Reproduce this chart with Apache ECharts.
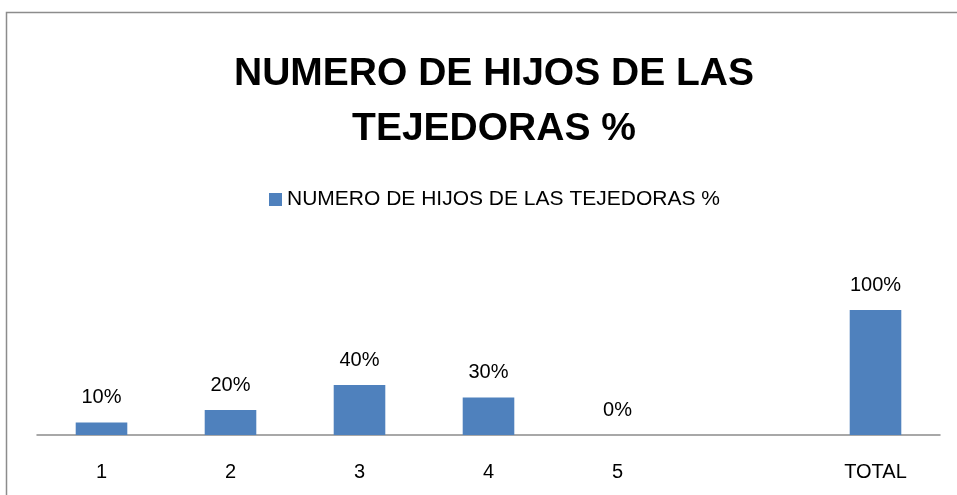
<!DOCTYPE html>
<html>
<head>
    <meta charset="utf-8">
    <title>NUMERO DE HIJOS DE LAS TEJEDORAS %</title>
    <script src="https://cdn.jsdelivr.net/npm/echarts@6/dist/echarts.min.js"></script>
    <style>
        html, body { margin: 0; padding: 0; background: #fff; }
        #chart1 { width: 957px; height: 495px; }
    </style>
</head>
<body>
<div id="chart1"></div>
<script type="text/javascript">
    // datos
    var categorias = ['1', '2', '3', '4', '5', '', 'TOTAL'];
    var porcentajes = [10, 20, 40, 30, 0, null, 100];
    var nombreSerie = 'NUMERO DE HIJOS DE LAS TEJEDORAS %';

    var fuente = '"Liberation Sans", Arial, sans-serif';
    var myChart = echarts.init(document.getElementById('chart1'));
    myChart.setOption({
        animation: false,
        backgroundColor: '#fff',
        graphic: [{
            type: 'rect',
            shape: { x: 6.5, y: 12.5, width: 960, height: 500 },
            style: { fill: 'none', stroke: '#8c8c8c', lineWidth: 1.5 }
        }],
        title: {
            text: 'NUMERO DE HIJOS DE LAS\nTEJEDORAS %',
            left: 489,
            top: 42,
            textAlign: 'center',
            textStyle: {
                fontFamily: fuente,
                fontWeight: 'bold',
                fontSize: 39,
                lineHeight: 55,
                color: '#000'
            }
        },
        legend: {
            data: [nombreSerie],
            left: 264,
            top: 184,
            itemWidth: 13,
            itemHeight: 13,
            icon: 'rect',
            itemGap: 6,
            textStyle: { fontFamily: fuente, fontSize: 21, color: '#000' }
        },
        grid: {
            left: 37,
            right: 17,
            top: 310,
            bottom: 60
        },
        xAxis: {
            type: 'category',
            data: categorias,
            axisLine: { lineStyle: { color: '#8c8c8c', width: 1.5 } },
            axisTick: { show: false },
            axisLabel: { fontFamily: fuente, fontSize: 20, color: '#000', margin: 27 }
        },
        yAxis: {
            type: 'value',
            min: 0,
            max: 100,
            show: false,
            splitLine: { show: false }
        },
        series: [{
            name: nombreSerie,
            type: 'bar',
            data: porcentajes,
            barWidth: '40%',
            itemStyle: { color: '#4f81bd' },
            label: {
                show: true,
                position: 'top',
                distance: 15,
                formatter: '{c}%',
                fontFamily: fuente,
                fontSize: 20,
                color: '#000'
            }
        }]
    });
</script>
</body>
</html>
